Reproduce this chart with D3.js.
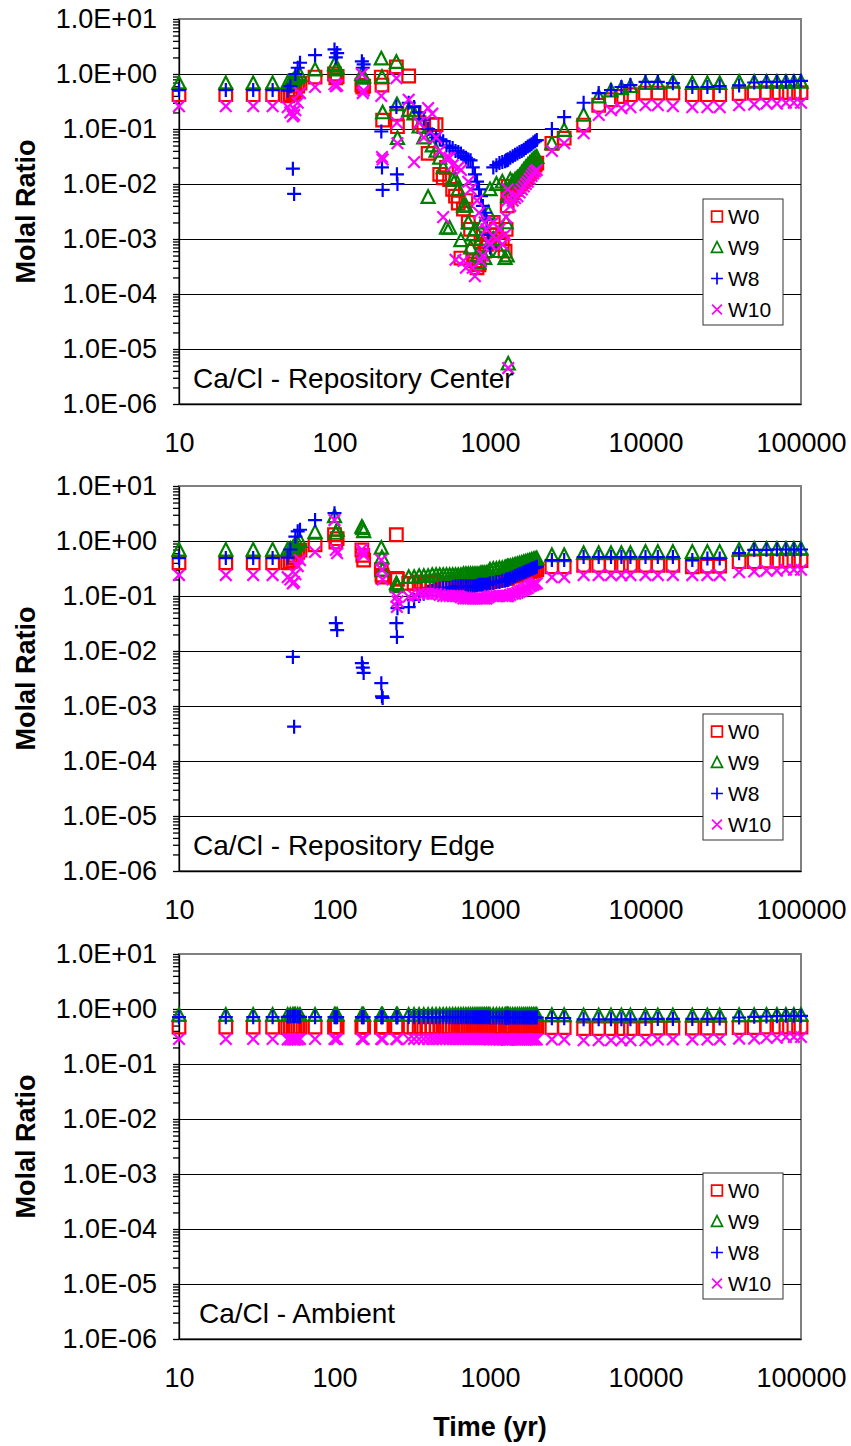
<!DOCTYPE html>
<html>
<head>
<meta charset="utf-8">
<script src="https://cdn.jsdelivr.net/npm/d3@7"></script>
<style>
  body { margin: 0; background: #fff; }
  svg { display: block; }
  text { font-family: "Liberation Sans", Arial, sans-serif; fill: #000; }
</style>
</head>
<body>
<script>
// Output times (yr), shared by every series
const times = [10,20,30,40,50,52,54,55,56,58,60,75,100,102,104,150,152,154,200,202,204,250,252,254,
  300,325,350,375,400,425,450,475,500,525,550,575,600,625,650,675,700,725,750,775,800,825,850,875,900,925,950,975,
  1000,1050,1100,1150,1200,1250,1270,1290,1300,1310,1350,1400,1450,1500,1550,1600,1650,1700,1750,1800,1850,1900,1950,2000,
  2500,3000,4000,5000,6000,7000,8000,10000,12000,15000,20000,25000,30000,40000,50000,60000,70000,80000,90000,100000];

const seriesNames = ["W0", "W9", "W8", "W10"];
const panelTitles = ["Ca/Cl - Repository Center", "Ca/Cl - Repository Edge", "Ca/Cl - Ambient"];
const yDecades = [1e-6, 1e-5, 1e-4, 1e-3, 1e-2, 1e-1, 1, 10];
const yTickLabels = ["1.0E-06", "1.0E-05", "1.0E-04", "1.0E-03", "1.0E-02", "1.0E-01", "1.0E+00", "1.0E+01"];
const xTicks = [10, 100, 1000, 10000, 100000];
const xTickLabels = ["10", "100", "1000", "10000", "100000"];

// Ca/Cl molal ratio – repository center
const centerW0 = [.42,.42,.42,.42,.40,.42,.45,.48,.52,.6,.68,.88,1.0,.85,.9,.63,.58,.6,.88,.63,.145,1.35,.19,.11,
  .92,.2,.13,.11,.036,.12,.12,.015,.013,.02,.012,.008,.006,.0045,4.5e-4,.0035,.005,.002,.0015,6e-4,4e-4,3e-4,3.4e-4,9e-4,.0012,6e-4,8e-4,.001,
  1.2e-3,2e-3,1.5e-3,1e-3,8e-4,6e-4,1.5e-3,4e-3,7e-3,9e-3,.006,.007,.008,.009,.01,.011,.012,.013,.015,.016,.018,.02,.022,.024,
  .055,.068,.118,.27,.34,.39,.42,.45,.45,.45,.42,.42,.42,.44,.45,.46,.46,.46,.46,.46];
const centerW9 = [.68,.68,.68,.68,.70,.72,.75,.8,.85,.9,.96,1.2,1.5,1.2,1.3,1.0,.85,.9,1.9,.88,.2,1.65,.28,.068,
  .22,.19,.11,.07,.0058,.05,.04,.03,.02,.0016,.0016,.012,.012,.008,9.5e-4,.004,.004,.002,7e-4,.0012,.0015,5e-4,3.7e-4,.001,.002,4.5e-4,6e-4,.003,
  .008,1e-3,.01,6e-4,.011,4.5e-4,2e-3,5e-4,.006,5.4e-6,.012,.011,.012,.013,.014,.016,.018,.02,.022,.024,.026,.028,.03,.031,
  .055,.096,.18,.39,.5,.55,.6,.68,.68,.72,.68,.68,.68,.72,.72,.72,.72,.72,.72,.72];
const centerW8 = [.51,.51,.51,.51,.5,.6,.019,.0066,1.0,1.3,1.6,2.2,2.8,2.0,2.4,1.7,1.3,1.5,.09,.02,.0078,.25,.015,.01,
  .3,.25,.2,.15,.1,.08,.07,.065,.06,.05,.047,.045,.04,.038,.036,.032,.03,.028,.027,.02,.015,.011,.008,.006,.004,.003,.0022,.0012,
  7e-4,.02,.022,.024,.025,.026,.027,.027,.028,.028,.03,.032,.034,.036,.038,.04,.042,.045,.048,.05,.053,.057,.06,.063,
  .1,.165,.3,.45,.51,.58,.63,.72,.72,.68,.58,.58,.6,.62,.7,.72,.72,.72,.74,.75];
const centerW10 = [.26,.26,.26,.26,.25,.2,.17,.18,.22,.3,.45,.58,.65,.6,.62,1.0,.45,.5,.4,.031,.028,.84,.13,.055,
  .34,.025,.13,.07,.24,.19,.07,.04,.0025,.03,.03,.022,4.2e-4,.02,.018,4e-4,3e-4,.011,.008,3e-4,2.1e-4,.005,.003,4e-4,5e-4,.002,.0015,9e-4,
  8e-4,.002,.001,.0015,8e-4,.0012,.0025,.005,.008,4.5e-6,.004,.005,.0055,.006,.007,.008,.009,.01,.011,.0125,.014,.0155,.017,.018,
  .04,.055,.084,.18,.22,.24,.25,.27,.27,.26,.25,.25,.25,.27,.28,.29,.29,.3,.3,.3];

// Ca/Cl molal ratio – repository edge
const edgeW0 = [.4,.4,.4,.4,.4,.42,.45,.5,.55,.62,.68,.85,1.3,.96,1.1,.69,.55,.45,.3,.24,.22,1.3,.21,.2,
  .17,.17,.18,.17,.17,.18,.18,.17,.17,.17,.17,.17,.18,.17,.17,.17,.17,.17,.17,.17,.17,.18,.18,.18,.18,.18,.18,.18,
  .18,.19,.19,.2,.2,.21,.21,.21,.22,.22,.23,.23,.24,.24,.25,.25,.26,.27,.27,.28,.28,.29,.3,.3,
  .34,.34,.36,.36,.36,.36,.36,.36,.36,.36,.34,.35,.35,.42,.42,.43,.43,.44,.44,.44];
const edgeW9 = [.69,.69,.69,.69,.7,.72,.75,.8,.85,.9,1.0,1.45,2.8,1.4,1.6,1.8,1.7,1.5,.75,.5,.3,.17,.16,.15,
  .22,.22,.23,.23,.23,.24,.24,.24,.24,.24,.24,.24,.24,.24,.24,.25,.25,.25,.25,.25,.25,.25,.25,.26,.26,.26,.26,.27,
  .3,.31,.31,.32,.32,.33,.33,.33,.34,.34,.35,.36,.37,.38,.39,.4,.41,.42,.43,.44,.45,.46,.47,.48,
  .55,.55,.6,.6,.6,.6,.6,.63,.63,.63,.63,.63,.63,.69,.72,.72,.72,.72,.72,.72];
const edgeW8 = [.49,.49,.49,.49,.5,.7,.0078,4.2e-4,1.2,1.5,1.6,2.4,3.2,.032,.024,.006,.005,.004,.0026,.0015,.0014,.032,.018,.06,
  .063,.085,.1,.11,.12,.125,.13,.135,.14,.14,.14,.145,.15,.15,.15,.15,.15,.15,.15,.15,.15,.155,.16,.16,.16,.16,.16,.165,
  .17,.17,.18,.18,.19,.19,.2,.2,.2,.2,.21,.22,.23,.24,.25,.26,.27,.28,.29,.3,.31,.32,.33,.34,
  .45,.45,.51,.51,.51,.51,.51,.51,.51,.51,.45,.48,.48,.6,.69,.69,.7,.7,.7,.7];
const edgeW10 = [.24,.24,.24,.24,.22,.2,.17,.18,.25,.35,.45,.63,2.4,.69,.6,.7,.6,.55,.45,.3,.2,.097,.063,.08,
  .097,.1,.11,.11,.11,.11,.11,.105,.1,.1,.1,.1,.1,.1,.095,.09,.09,.09,.09,.09,.09,.09,.09,.09,.09,.09,.09,.095,
  .1,.1,.1,.1,.1,.1,.1,.1,.1,.1,.105,.11,.11,.115,.12,.125,.13,.135,.14,.15,.155,.16,.165,.17,
  .22,.22,.24,.24,.24,.24,.24,.24,.24,.24,.24,.24,.24,.27,.28,.29,.29,.3,.3,.3];

// Ca/Cl molal ratio – ambient
const ambientW0 = [.47,.47,.47,.47,.46,.46,.45,.45,.46,.46,.47,.47,.47,.47,.47,.47,.47,.47,.47,.47,.47,.47,.47,.47,
  .47,.47,.47,.47,.47,.47,.47,.47,.47,.47,.47,.47,.47,.47,.47,.47,.47,.47,.47,.47,.47,.47,.47,.47,.47,.47,.47,.47,
  .47,.47,.47,.47,.47,.47,.47,.47,.47,.47,.47,.47,.47,.47,.47,.47,.47,.47,.47,.47,.47,.47,.47,.47,
  .46,.46,.44,.44,.44,.44,.44,.44,.45,.45,.45,.45,.45,.46,.46,.47,.47,.47,.47,.47];
const ambientW9 = [.78,.78,.78,.78,.78,.78,.78,.78,.78,.78,.78,.78,.78,.78,.78,.78,.78,.78,.78,.78,.78,.78,.78,.78,
  .78,.78,.78,.78,.78,.78,.78,.78,.78,.78,.78,.78,.78,.78,.78,.78,.78,.78,.78,.78,.78,.78,.78,.78,.78,.78,.78,.78,
  .78,.78,.78,.78,.78,.78,.78,.78,.78,.78,.78,.78,.78,.78,.78,.78,.78,.78,.78,.78,.78,.78,.78,.78,
  .77,.77,.76,.76,.76,.76,.76,.76,.76,.76,.76,.76,.76,.77,.77,.78,.78,.78,.78,.78];
const ambientW8 = [.71,.71,.71,.71,.72,.73,.74,.74,.74,.73,.72,.71,.71,.71,.71,.71,.71,.71,.71,.71,.71,.71,.71,.71,
  .71,.71,.71,.71,.71,.71,.71,.71,.71,.71,.71,.71,.71,.71,.71,.71,.71,.71,.71,.71,.71,.71,.71,.71,.71,.71,.71,.71,
  .7,.7,.7,.7,.7,.7,.7,.7,.7,.7,.7,.7,.7,.7,.7,.7,.7,.7,.7,.7,.7,.7,.7,.7,
  .68,.68,.65,.65,.65,.65,.65,.66,.66,.66,.66,.66,.67,.7,.72,.73,.74,.75,.75,.75];
const ambientW10 = [.285,.285,.285,.285,.28,.28,.28,.28,.28,.28,.285,.285,.285,.285,.285,.285,.285,.285,.285,.285,.285,.285,.285,.285,
  .285,.285,.285,.285,.285,.285,.285,.285,.285,.285,.285,.285,.285,.285,.285,.285,.285,.285,.285,.285,.285,.285,.285,.285,.285,.285,.285,.285,
  .28,.28,.28,.28,.28,.28,.28,.28,.28,.28,.28,.28,.28,.28,.28,.28,.28,.28,.28,.28,.28,.28,.28,.28,
  .28,.28,.27,.27,.27,.27,.27,.27,.28,.28,.28,.28,.28,.29,.29,.3,.3,.31,.31,.31];

// ---- layout & styling ----
const W = 851, H = 1446;
const plotLeft = 179, plotRight = 801, plotH = 385;
const panels = [
  { title: panelTitles[0], series: [centerW0, centerW9, centerW8, centerW10], top: 19,  legendTop: 199,  titleX: 193 },
  { title: panelTitles[1], series: [edgeW0, edgeW9, edgeW8, edgeW10],         top: 486, legendTop: 714,  titleX: 193 },
  { title: panelTitles[2], series: [ambientW0, ambientW9, ambientW8, ambientW10], top: 954, legendTop: 1173, titleX: 199 }
];
const colors = ["#ff0000", "#008000", "#0000ff", "#ff00ff"];
const shapes = [
  "M-6.3,-6.3H6.3V6.3H-6.3Z",          // square
  "M0,-6.8L6.5,5.8L-6.5,5.8Z",         // triangle
  "M-7,0H7M0,-7V7",                    // plus
  "M-5.8,-5.8L5.8,5.8M-5.8,5.8L5.8,-5.8" // x
];

const svg = d3.select("body").append("svg").attr("width", W).attr("height", H);
const x = d3.scaleLog().domain([10, 100000]).range([plotLeft, plotRight]);

panels.forEach(p => {
  const bottom = p.top + plotH;
  const y = d3.scaleLog().domain([1e-6, 10]).range([bottom, p.top]);
  const g = svg.append("g");

  // plot-area frame
  g.append("rect")
    .attr("x", plotLeft).attr("y", p.top)
    .attr("width", plotRight - plotLeft).attr("height", plotH)
    .attr("fill", "none").attr("stroke", "#808080").attr("stroke-width", 2);

  // horizontal gridlines at each decade
  g.selectAll("line.grid").data(yDecades.slice(1, -1)).join("line")
    .attr("class", "grid")
    .attr("x1", plotLeft).attr("x2", plotRight)
    .attr("y1", d => Math.round(y(d)) + 0.5).attr("y2", d => Math.round(y(d)) + 0.5)
    .attr("stroke", "#000").attr("stroke-width", 1);

  // y axis with log minor ticks
  const yAxis = d3.axisLeft(y)
    .tickValues(y.ticks())
    .tickSize(6).tickSizeOuter(0).tickPadding(16)
    .tickFormat(d => {
      const i = yDecades.findIndex(v => Math.abs(v - d) / v < 1e-9);
      return i < 0 ? "" : yTickLabels[i];
    });
  const ya = g.append("g").attr("transform", `translate(${plotLeft},0)`).call(yAxis);
  ya.attr("font-family", null).attr("font-size", 27);
  ya.selectAll("path, line").attr("stroke", "#000").attr("stroke-width", 1.3);

  // x axis (labels only)
  const xAxis = d3.axisBottom(x)
    .tickValues(xTicks).tickSize(0).tickPadding(29)
    .tickFormat((d, i) => xTickLabels[i]);
  const xa = g.append("g").attr("transform", `translate(0,${bottom})`).call(xAxis);
  xa.attr("font-family", null).attr("font-size", 27);
  xa.select(".domain").attr("stroke", "#000").attr("stroke-width", 1.3);

  // y axis title
  g.append("text")
    .attr("transform", `translate(26,${p.top + plotH / 2}) rotate(-90)`)
    .attr("text-anchor", "middle").attr("dominant-baseline", "central")
    .attr("font-size", 27).attr("font-weight", "bold")
    .text("Molal Ratio");

  // series markers
  p.series.forEach((vals, si) => {
    const pts = times.map((t, i) => [t, vals[i]]).filter(d => d[1] != null);
    g.append("g").selectAll("path").data(pts).join("path")
      .attr("d", shapes[si])
      .attr("transform", d => `translate(${x(d[0])},${y(d[1])})`)
      .attr("fill", "none")
      .attr("stroke", colors[si]).attr("stroke-width", 2.2);
  });

  // panel annotation
  g.append("text")
    .attr("x", p.titleX).attr("y", bottom - 16)
    .attr("font-size", 28)
    .text(p.title);

  // legend
  const lg = g.append("g").attr("transform", `translate(703,${p.legendTop})`);
  lg.append("rect").attr("width", 80).attr("height", 126)
    .attr("fill", "#fff").attr("stroke", "#333").attr("stroke-width", 1);
  seriesNames.forEach((name, si) => {
    const cy = 17.5 + si * 31;
    lg.append("path").attr("d", shapes[si])
      .attr("transform", `translate(14,${cy}) scale(0.85)`)
      .attr("fill", "none").attr("stroke", colors[si]).attr("stroke-width", 2);
    lg.append("text").attr("x", 25).attr("y", cy)
      .attr("dominant-baseline", "central").attr("font-size", 21)
      .text(name);
  });
});

// shared x axis title
svg.append("text")
  .attr("x", 490).attr("y", 1427)
  .attr("text-anchor", "middle").attr("dominant-baseline", "central")
  .attr("font-size", 27).attr("font-weight", "bold")
  .text("Time (yr)");
</script>
</body>
</html>
